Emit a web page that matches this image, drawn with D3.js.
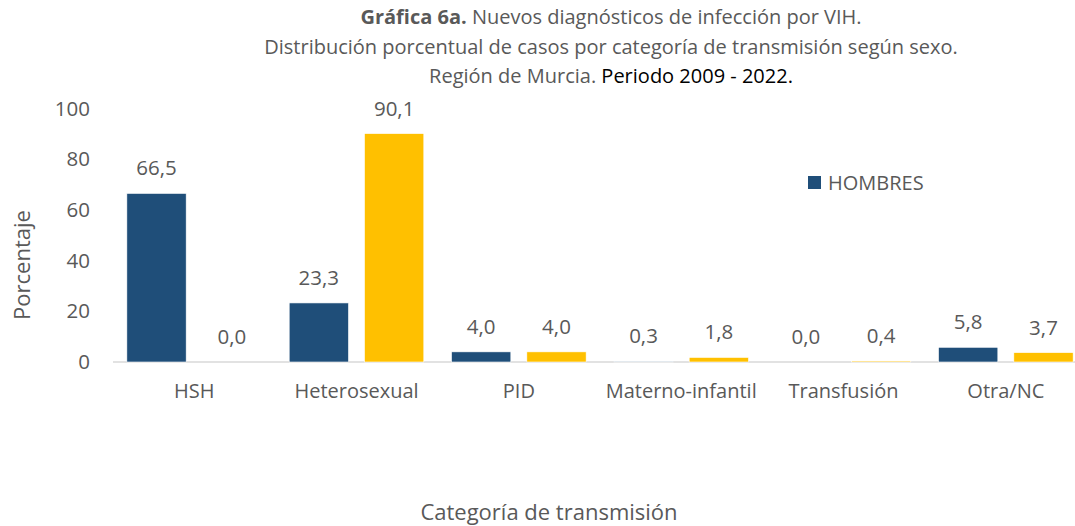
<!DOCTYPE html>
<html>
<head>
<meta charset="utf-8">
<script src="https://cdn.jsdelivr.net/npm/d3@7"></script>
<style>
  body { margin: 0; background: #fff; }
  svg { display: block; font-family: "Open Sans", "Noto Sans", sans-serif; }
</style>
</head>
<body>
<svg width="1075" height="526"></svg>
<script>
var categories = ["HSH", "Heterosexual", "PID", "Materno-infantil", "Transfusión", "Otra/NC"];
var hombres = [66.5, 23.3, 4.0, 0.3, 0.0, 5.8];
var mujeres = [0.0, 90.1, 4.0, 1.8, 0.4, 3.7];
var seriesNames = ["HOMBRES", "MUJERES"];
var yTicks = [0, 20, 40, 60, 80, 100];

var svg = d3.select("svg"),
    textColor = "#595959",
    colors = {HOMBRES: "#1F4E79", MUJERES: "#FFC000"};

var x = d3.scaleBand().domain(categories).range([113, 1087]),
    xs = d3.scaleBand().domain(seriesNames).range([0, x.bandwidth()])
        .paddingInner(0.2125).paddingOuter(0.184),
    y = d3.scaleLinear().domain([0, 100]).range([362, 108.5]);

var data = categories.map(function(c, i) {
    return {cat: c, values: [{s: "HOMBRES", v: hombres[i]}, {s: "MUJERES", v: mujeres[i]}]};
});

// title
var title = svg.append("text")
    .attr("text-anchor", "middle")
    .attr("fill", textColor)
    .style("font-size", "20px");
var t1 = title.append("tspan").attr("x", 611).attr("y", 24);
t1.append("tspan").attr("font-weight", "bold").text("Gráfica 6a.");
t1.append("tspan").text(" Nuevos diagnósticos de infección por VIH.");
title.append("tspan").attr("x", 611).attr("y", 54)
    .text("Distribución porcentual de casos por categoría de transmisión según sexo.");
var t3 = title.append("tspan").attr("x", 611).attr("y", 83);
t3.append("tspan").text("Región de Murcia. ");
t3.append("tspan").attr("fill", "#000").text("Periodo 2009 - 2022.");

// y axis (labels only)
var yAxis = svg.append("g")
    .attr("transform", "translate(90,0)")
    .call(d3.axisLeft(y).tickValues(yTicks).tickSize(0).tickPadding(0));
yAxis.select(".domain").remove();
yAxis.selectAll("text")
    .attr("fill", textColor)
    .style("font-size", "20.5px")
    .style("font-family", "'Open Sans', sans-serif");

// baseline
svg.append("line")
    .attr("x1", 113).attr("x2", 1087)
    .attr("y1", y(0)).attr("y2", y(0))
    .attr("stroke", "#D9D9D9").attr("stroke-width", 1.3);

// x axis labels
var xAxis = svg.append("g")
    .attr("transform", "translate(0," + y(0) + ")")
    .call(d3.axisBottom(x).tickSize(0).tickPadding(22));
xAxis.select(".domain").remove();
xAxis.selectAll("text")
    .attr("fill", textColor)
    .style("font-size", "20px")
    .style("font-family", "'Open Sans', sans-serif");

// bars
var cat = svg.selectAll(".cat").data(data)
    .enter().append("g")
    .attr("class", "cat")
    .attr("transform", function(d) { return "translate(" + x(d.cat) + ",0)"; });

cat.selectAll("rect").data(function(d) { return d.values; })
    .enter().append("rect")
    .attr("x", function(d) { return xs(d.s); })
    .attr("width", xs.bandwidth())
    .attr("y", function(d) { return y(d.v); })
    .attr("height", function(d) { return y(0) - y(d.v); })
    .attr("fill", function(d) { return colors[d.s]; })
    .attr("stroke", "#fff")
    .attr("stroke-width", 0.6);

cat.selectAll(".lbl").data(function(d) { return d.values; })
    .enter().append("text")
    .attr("class", "lbl")
    .attr("x", function(d) { return xs(d.s) + xs.bandwidth() / 2; })
    .attr("y", function(d) { return y(d.v) - 18; })
    .attr("text-anchor", "middle")
    .attr("fill", textColor)
    .style("font-size", "20.5px")
    .text(function(d) { return d3.format(".1f")(d.v).replace(".", ","); });

// legend (only HOMBRES is visible)
var legend = svg.append("g").attr("transform", "translate(808,176)");
legend.append("rect").attr("width", 13).attr("height", 13).attr("fill", colors.HOMBRES);
legend.append("text")
    .attr("x", 20).attr("y", 13.5)
    .attr("fill", textColor)
    .style("font-size", "20px")
    .text("HOMBRES");

// axis titles
svg.append("text")
    .attr("transform", "translate(30,265) rotate(-90)")
    .attr("text-anchor", "middle")
    .attr("fill", textColor)
    .style("font-size", "22px")
    .text("Porcentaje");

svg.append("text")
    .attr("x", 549).attr("y", 520)
    .attr("text-anchor", "middle")
    .attr("fill", textColor)
    .style("font-size", "22px")
    .text("Categoría de transmisión");
</script>
</body>
</html>
